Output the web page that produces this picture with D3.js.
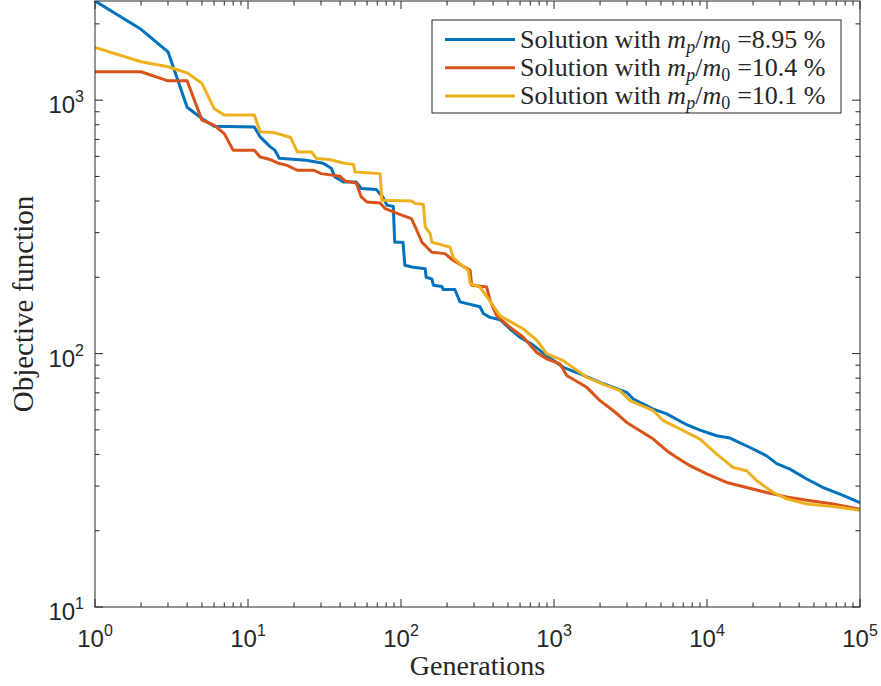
<!DOCTYPE html>
<html>
<head>
<meta charset="utf-8">
<script src="https://cdn.jsdelivr.net/npm/d3@7"></script>
<style>
  html, body { margin: 0; padding: 0; background: #fff; }
  svg { display: block; }
  .tick-label { font-family: "Liberation Sans", Arial, sans-serif; fill: #262626; }
  .tex { font-family: "Liberation Serif", "Times New Roman", serif; fill: #262626; }
</style>
</head>
<body>
<div id="chart"></div>
<script>
// tamanho da janela e área do gráfico
const width = 881;
const height = 686;
const margin = { left: 95, right: 21, top: 1, bottom: 79 };

// dados: geração e valor da função objetivo
const blueGen = [1, 2, 3, 4, 5, 6, 11, 12, 14, 15, 16, 24, 31, 35, 37, 42, 51, 55, 69, 76, 81, 89, 91, 103, 106, 120, 144, 146, 159, 163, 185, 189, 225, 243, 328, 345, 382, 444, 516, 600, 732, 896, 1150, 1479, 2000, 2987, 3300, 4457, 5455, 7366, 9000, 11560, 14130, 19100, 24550, 28530, 34860, 44870, 57540, 73960, 100000];
const blueObj = [2462, 1903, 1552, 938, 847, 789, 784, 716, 654, 634, 590, 579, 564, 539, 498, 475, 475, 448, 444, 415, 385, 381, 275, 275, 223, 219, 216, 200, 197, 186, 184, 179, 179, 160, 153, 144, 139, 136, 125, 116, 108, 98, 88.3, 83.2, 77, 70.3, 66.2, 60.4, 57.8, 52.4, 49.9, 47.4, 46.4, 42.6, 39.5, 36.8, 35.0, 32.0, 29.6, 27.9, 25.8];

const redGen = [1, 2, 3, 4, 5, 6, 7, 8, 11, 12, 14, 16, 18, 21, 27, 30, 40, 43, 51, 55, 60, 73, 79, 98, 117, 127, 137, 159, 194, 220, 283, 290, 363, 382, 422, 516, 630, 771, 896, 1094, 1211, 1636, 2000, 2443, 2987, 3648, 4457, 5455, 6339, 7744, 9950, 13450, 18170, 24550, 33190, 44870, 66880, 100000];
const redObj = [1294, 1294, 1192, 1192, 834, 797, 738, 634, 634, 597, 583, 562, 553, 529, 529, 513, 501, 480, 471, 415, 396, 393, 373, 354, 341, 306, 275, 251, 248, 233, 213, 186, 183, 162, 141, 127, 116, 101, 95.3, 91, 81.9, 73.6, 65.2, 59.5, 53.5, 49.6, 46, 41.4, 38.9, 36.1, 33.5, 31, 29.6, 28.3, 27.2, 26.4, 25.5, 24.3];

const yellowGen = [1, 2, 3, 4, 5, 6, 7, 11, 12, 15, 17, 19, 21, 26, 28, 34, 42, 49, 50, 73, 75, 117, 124, 140, 144, 155, 159, 209, 220, 243, 275, 283, 328, 382, 444, 630, 771, 896, 1150, 1636, 2209, 2700, 3140, 4457, 5180, 6665, 9000, 11560, 14860, 18170, 21130, 27120, 33190, 44870, 66880, 100000];
const yellowObj = [1616, 1417, 1354, 1282, 1165, 927, 873, 873, 750, 743, 727, 712, 625, 625, 588, 583, 565, 558, 521, 513, 403, 400, 391, 388, 316, 298, 275, 263, 239, 226, 213, 189, 183, 161, 141, 125, 113, 99.7, 93.8, 80.6, 74.8, 71.4, 65.2, 59.5, 54.4, 50.4, 46, 40.1, 35.5, 34.5, 31.5, 28.3, 26.7, 25.5, 24.9, 24.1];

const seriesNames = ["8.95", "10.4", "10.1"];
const seriesColors = ["#0072BD", "#D95319", "#EDB120"];

// eixos (expoentes dos rótulos)
const xTickExp = [0, 1, 2, 3, 4, 5];
const yTickExp = [1, 2, 3];
const xDomain = [1, 1e5];
const yDomain = [10, 2462];

const series = [
    { name: seriesNames[0], color: seriesColors[0], pts: blueGen.map((g, i) => [g, blueObj[i]]) },
    { name: seriesNames[1], color: seriesColors[1], pts: redGen.map((g, i) => [g, redObj[i]]) },
    { name: seriesNames[2], color: seriesColors[2], pts: yellowGen.map((g, i) => [g, yellowObj[i]]) }
];

const svg = d3.select("#chart")
    .append("svg")
    .attr("width", width)
    .attr("height", height);

const x = d3.scaleLog()
    .domain(xDomain)
    .range([margin.left, width - margin.right]);

const y = d3.scaleLog()
    .domain(yDomain)
    .range([height - margin.bottom, margin.top]);

const axisColor = "#262626";
const x0 = x.range()[0], x1 = x.range()[1];
const y0 = y.range()[0], y1 = y.range()[1];

// clip para as linhas
svg.append("clipPath").attr("id", "plot-clip")
    .append("rect")
    .attr("x", x0).attr("y", y1)
    .attr("width", x1 - x0).attr("height", y0 - y1);

// linhas das soluções
const line = d3.line()
    .x(d => x(d[0]))
    .y(d => y(d[1]));

svg.append("g")
    .attr("clip-path", "url(#plot-clip)")
    .selectAll("path")
    .data(series)
    .enter()
    .append("path")
    .attr("d", d => line(d.pts))
    .attr("fill", "none")
    .attr("stroke", d => d.color)
    .attr("stroke-width", 3)
    .attr("stroke-linejoin", "round");

// ticks (maiores e menores), espelhados nos quatro lados
function logTicks(lo, hi) {
    const major = [], minor = [];
    for (let e = Math.floor(Math.log10(lo)); e <= Math.ceil(Math.log10(hi)); e++) {
        for (let k = 1; k <= 9; k++) {
            const v = k * Math.pow(10, e);
            if (v < lo - 1e-9 || v > hi + 1e-9) continue;
            (k === 1 ? major : minor).push(v);
        }
    }
    return { major, minor };
}

const xt = logTicks(xDomain[0], xDomain[1]);
const yt = logTicks(yDomain[0], yDomain[1]);
const majorLen = 8, minorLen = 4.5;

const ticks = svg.append("g").attr("stroke", axisColor).attr("stroke-width", 1);

[[xt.major, majorLen], [xt.minor, minorLen]].forEach(([vals, len]) => {
    vals.forEach(v => {
        const px = x(v);
        ticks.append("line").attr("x1", px).attr("x2", px).attr("y1", y0).attr("y2", y0 - len);
        ticks.append("line").attr("x1", px).attr("x2", px).attr("y1", y1).attr("y2", y1 + len);
    });
});
[[yt.major, majorLen], [yt.minor, minorLen]].forEach(([vals, len]) => {
    vals.forEach(v => {
        const py = y(v);
        ticks.append("line").attr("x1", x0).attr("x2", x0 + len).attr("y1", py).attr("y2", py);
        ticks.append("line").attr("x1", x1).attr("x2", x1 - len).attr("y1", py).attr("y2", py);
    });
});

// caixa do eixo
svg.append("rect")
    .attr("x", x0).attr("y", y1)
    .attr("width", x1 - x0).attr("height", y0 - y1)
    .attr("fill", "none")
    .attr("stroke", axisColor)
    .attr("stroke-width", 1);

// rótulos dos ticks 10^n
function powLabel(g, e) {
    g.append("tspan").attr("font-size", 24).text("10");
    g.append("tspan").attr("font-size", 16).attr("dy", -11).text(e);
}

xTickExp.forEach(e => {
    const t = svg.append("text")
        .attr("class", "tick-label")
        .attr("x", x(Math.pow(10, e)))
        .attr("y", 647)
        .attr("text-anchor", "middle");
    powLabel(t, e);
});

yTickExp.forEach(e => {
    const t = svg.append("text")
        .attr("class", "tick-label")
        .attr("x", x0 - 11)
        .attr("y", y(Math.pow(10, e)) + 13)
        .attr("text-anchor", "end");
    powLabel(t, e);
});

// títulos dos eixos
svg.append("text")
    .attr("class", "tex")
    .attr("x", (x0 + x1) / 2)
    .attr("y", 675)
    .attr("text-anchor", "middle")
    .attr("font-size", 28)
    .text("Generations");

svg.append("text")
    .attr("class", "tex")
    .attr("transform", `translate(33, ${(y0 + y1) / 2}) rotate(-90)`)
    .attr("text-anchor", "middle")
    .attr("font-size", 29)
    .text("Objective function");

// legenda
const legend = svg.append("g");
legend.append("rect")
    .attr("x", 432).attr("y", 20)
    .attr("width", 409).attr("height", 93)
    .attr("fill", "#fff")
    .attr("stroke", axisColor)
    .attr("stroke-width", 1);

series.forEach((s, i) => {
    const ly = 39.5 + i * 28.3;
    legend.append("line")
        .attr("x1", 445).attr("x2", 515)
        .attr("y1", ly).attr("y2", ly)
        .attr("stroke", s.color)
        .attr("stroke-width", 3);
    const t = legend.append("text")
        .attr("class", "tex")
        .attr("x", 520)
        .attr("y", ly + 8)
        .attr("font-size", 26);
    t.append("tspan").text("Solution with ");
    t.append("tspan").attr("font-style", "italic").text("m");
    t.append("tspan").attr("font-style", "italic").attr("font-size", 18).attr("dy", 5).text("p");
    t.append("tspan").attr("dy", -5).text("/");
    t.append("tspan").attr("font-style", "italic").text("m");
    t.append("tspan").attr("font-size", 18).attr("dy", 5).text("0");
    t.append("tspan").attr("dy", -5).attr("dx", 7).text("=" + s.name + " %");
});
</script>
</body>
</html>
